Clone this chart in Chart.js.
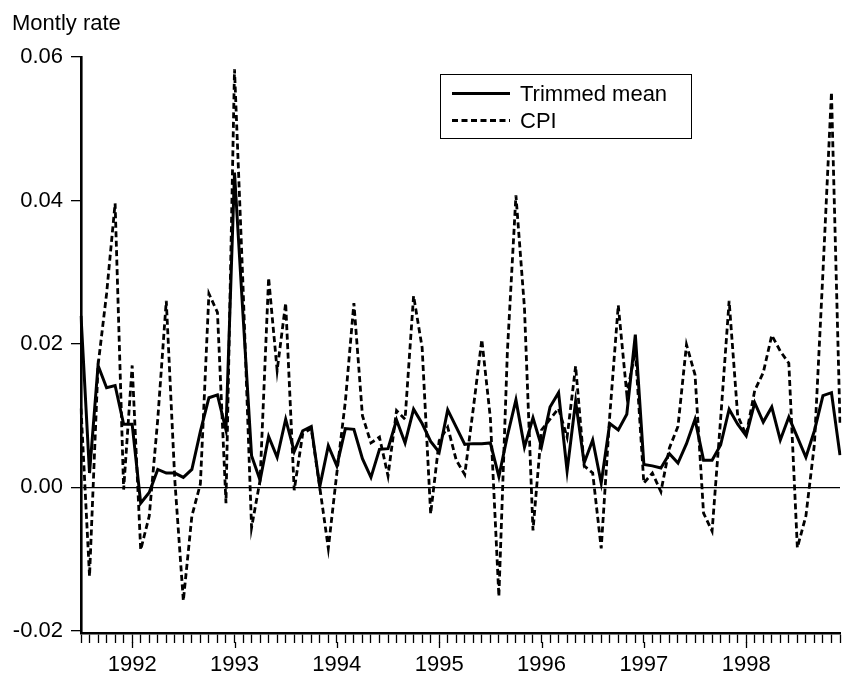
<!DOCTYPE html>
<html>
<head>
<meta charset="utf-8">
<script src="https://cdn.jsdelivr.net/npm/chart.js@4"></script>
<style>
  html, body { margin: 0; padding: 0; background: #fff; }
  #wrap { width: 849px; height: 679px; }
</style>
</head>
<body>
<div id="wrap"><canvas id="chart" width="849" height="679"></canvas></div>
<script>
// monthly periods, Jul 1991 .. Dec 1998
const startYear = 1991, startMonth = 7, monthCount = 90;
const months = [];
for (let k = 0; k < monthCount; k++) {
    const m = startMonth - 1 + k;
    const y = startYear + Math.floor(m / 12);
    months.push(y + '-' + String(m % 12 + 1).padStart(2, '0'));
}

const yearLabels = ['1992', '1993', '1994', '1995', '1996', '1997', '1998'];
const yTicks = [-0.02, 0, 0.02, 0.04, 0.06];

const trimmedMean = [
    0.0239, 0.0020, 0.0170, 0.0139, 0.0142, 0.0088,
    0.0088, -0.0022, -0.0007, 0.0025, 0.0020, 0.0020, 0.0014, 0.0025, 0.0078, 0.0125, 0.0129, 0.0080,
    0.0439, 0.0240, 0.0044, 0.0010, 0.0071, 0.0042, 0.0095, 0.0050, 0.0079, 0.0085, 0.0001, 0.0058,
    0.0030, 0.0082, 0.0081, 0.0040, 0.0014, 0.0053, 0.0054, 0.0094, 0.0062, 0.0109, 0.0089, 0.0064,
    0.0049, 0.0108, 0.0084, 0.0060, 0.0061, 0.0061, 0.0062, 0.0015, 0.0072, 0.0122, 0.0056, 0.0097,
    0.0057, 0.0112, 0.0132, 0.0023, 0.0120, 0.0034, 0.0066, 0.0006, 0.0089, 0.0080, 0.0102, 0.0213,
    0.0032, 0.0030, 0.0027, 0.0047, 0.0034, 0.0061, 0.0095, 0.0038, 0.0038, 0.0059, 0.0109, 0.0088,
    0.0072, 0.0118, 0.0091, 0.0112, 0.0066, 0.0098, 0.0070, 0.0042, 0.0079, 0.0128, 0.0132, 0.0045
];

const cpi = [
    0.0110, -0.0124, 0.0170, 0.0270, 0.0396, -0.0003,
    0.0170, -0.0087, -0.0040, 0.0095, 0.0260, 0.0010, -0.0158, -0.0040, 0.0005, 0.0270, 0.0244, -0.0022,
    0.0583, 0.0280, -0.0056, 0.0010, 0.0292, 0.0163, 0.0257, -0.0004, 0.0075, 0.0082, 0.0000, -0.0085,
    0.0020, 0.0120, 0.0257, 0.0100, 0.0062, 0.0070, 0.0016, 0.0107, 0.0095, 0.0267, 0.0195, -0.0037,
    0.0065, 0.0084, 0.0038, 0.0018, 0.0110, 0.0206, 0.0097, -0.0152, 0.0190, 0.0407, 0.0250, -0.0060,
    0.0080, 0.0095, 0.0110, 0.0070, 0.0169, 0.0030, 0.0020, -0.0085, 0.0100, 0.0254, 0.0130, 0.0190,
    0.0006, 0.0020, -0.0006, 0.0055, 0.0085, 0.0199, 0.0157, -0.0036, -0.0061, 0.0095, 0.0260, 0.0100,
    0.0073, 0.0135, 0.0160, 0.0212, 0.0190, 0.0173, -0.0084, -0.0040, 0.0060, 0.0300, 0.0551, 0.0090
];

const FONT = '"Liberation Sans", Arial, Helvetica, sans-serif';

const isJanuary = (i) => months[i] && months[i].endsWith('-01') && yearLabels.includes(months[i].slice(0, 4));

// title top-left, longer year ticks, legend box inside the plot
const extras = {
    id: 'extras',
    afterDraw(chart) {
        const ctx = chart.ctx;
        const x = chart.scales.x;
        ctx.save();
        ctx.fillStyle = '#000';
        ctx.font = '22px ' + FONT;
        ctx.textBaseline = 'alphabetic';
        ctx.fillText('Montly rate', 12, 30);

        // year ticks are a bit longer than month ticks
        ctx.strokeStyle = '#000';
        ctx.lineWidth = 1.3;
        months.forEach((m, i) => {
            if (!isJanuary(i)) return;
            const px = Math.round(x.getPixelForValue(i)) + 0.5;
            ctx.beginPath();
            ctx.moveTo(px, x.top + 9);
            ctx.lineTo(px, x.top + 15);
            ctx.stroke();
        });

        // legend
        const box = { left: 440.5, top: 74.5, width: 251, height: 64 };
        ctx.fillStyle = '#fff';
        ctx.fillRect(box.left, box.top, box.width, box.height);
        ctx.lineWidth = 1;
        ctx.setLineDash([]);
        ctx.strokeRect(box.left, box.top, box.width, box.height);
        chart.data.datasets.forEach((ds, k) => {
            const cy = box.top + 19 + k * 27;
            ctx.beginPath();
            ctx.lineWidth = ds.borderWidth;
            ctx.setLineDash(ds.borderDash || []);
            ctx.moveTo(452, cy);
            ctx.lineTo(510, cy);
            ctx.stroke();
            ctx.setLineDash([]);
            ctx.fillStyle = '#000';
            ctx.textBaseline = 'middle';
            ctx.fillText(ds.label, 520, cy + 1);
        });
        ctx.restore();
    }
};

new Chart(document.getElementById('chart').getContext('2d'), {
    type: 'line',
    data: {
        labels: months,
        datasets: [
            {
                label: 'Trimmed mean',
                data: trimmedMean,
                borderColor: '#000',
                borderWidth: 3,
                pointRadius: 0,
                tension: 0,
                fill: false
            },
            {
                label: 'CPI',
                data: cpi,
                borderColor: '#000',
                borderWidth: 2.8,
                borderDash: [6, 3.5],
                pointRadius: 0,
                tension: 0,
                fill: false
            }
        ]
    },
    options: {
        responsive: false,
        animation: false,
        layout: { padding: { top: 57, right: 0, bottom: 0, left: 0 } },
        plugins: {
            legend: { display: false },
            tooltip: { enabled: false },
            title: { display: false }
        },
        scales: {
            x: {
                type: 'category',
                offset: false,
                afterFit: (scale) => { scale.height = 46; },
                border: { display: true, color: '#000', width: 2.6 },
                grid: {
                    display: true,
                    drawOnChartArea: false,
                    drawTicks: true,
                    tickLength: 10,
                    tickColor: '#000',
                    tickWidth: 1.3
                },
                ticks: {
                    autoSkip: false,
                    maxRotation: 0,
                    minRotation: 0,
                    padding: 9,
                    color: '#000',
                    font: { family: FONT, size: 22 },
                    callback: (val, i) => isJanuary(i) ? months[i].slice(0, 4) : ''
                }
            },
            y: {
                min: -0.0203,
                max: 0.06,
                afterFit: (scale) => { scale.width = 81; },
                afterBuildTicks: (scale) => { scale.ticks = yTicks.map(v => ({ value: v })); },
                border: { display: true, color: '#000', width: 2.6 },
                grid: {
                    drawOnChartArea: true,
                    drawTicks: true,
                    tickLength: 10,
                    tickColor: '#000',
                    tickWidth: 1.3,
                    lineWidth: 1.3,
                    color: (c) => (c.tick && c.tick.value === 0) ? '#000' : 'rgba(0,0,0,0)'
                },
                ticks: {
                    padding: 8,
                    color: '#000',
                    font: { family: FONT, size: 22 },
                    callback: (v) => v.toFixed(2)
                }
            }
        }
    },
    plugins: [extras]
});
</script>
</body>
</html>
